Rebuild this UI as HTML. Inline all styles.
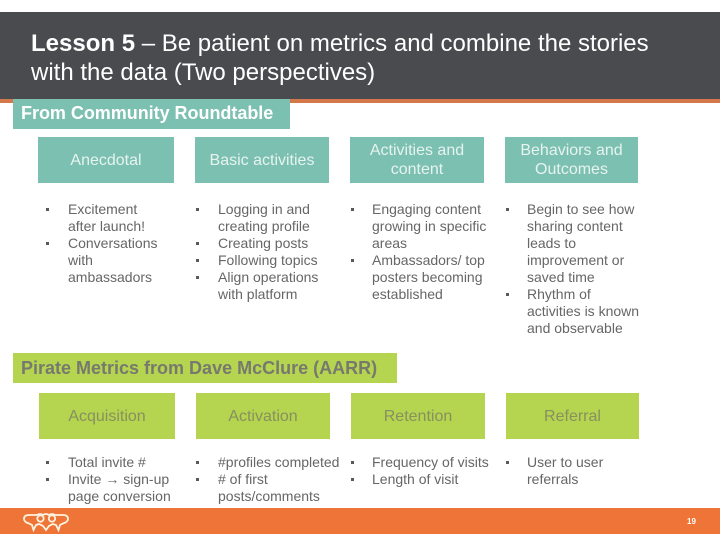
<!DOCTYPE html>
<html>
<head>
<meta charset="utf-8">
<style>
html,body{margin:0;padding:0;background:#fff}
#s{position:relative;width:720px;height:540px;overflow:hidden;background:#fff;font-family:"Liberation Sans",sans-serif}
#s div{position:absolute;white-space:nowrap}
.t{font-size:14px;line-height:17px;color:#666;height:17px}
.b{width:3px;height:3px;background:#595959}
.h{display:flex;align-items:center;justify-content:center;text-align:center;font-size:16px;line-height:19px;height:46px;white-space:normal!important}
.tl{background:#7cc0b1;color:#e6f3f0}
.gr{background:#b5d44f;color:#87905f}
</style>
</head>
<body>
<div id="s">
<div style="left:0;top:12px;width:720px;height:87px;background:#4a4b4f"></div>
<div style="left:0;top:99px;width:720px;height:4px;background:#d4774a"></div>
<div style="left:31px;top:29px;font-size:24px;line-height:29px;color:#fff"><b>Lesson 5</b> – Be patient on metrics and combine the stories<br>with the data (Two perspectives)</div>

<div style="left:13px;top:99px;width:277px;height:30px;background:#7cc0b1"></div>
<div style="left:21px;top:104px;font-size:18px;line-height:19px;font-weight:bold;color:#fff;letter-spacing:-0.03px">From Community Roundtable</div>

<div class="h tl" style="left:38px;top:137px;width:136px">Anecdotal</div>
<div class="h tl" style="left:195px;top:137px;width:134px">Basic activities</div>
<div class="h tl" style="left:350px;top:137px;width:134px">Activities and<br>content</div>
<div class="h tl" style="left:505px;top:137px;width:133px">Behaviors and<br>Outcomes</div>

<div class="b" style="left:46px;top:208px"></div>
<div class="t" style="left:68px;top:201px">Excitement</div>
<div class="t" style="left:68px;top:218px">after launch!</div>
<div class="b" style="left:46px;top:242px"></div>
<div class="t" style="left:68px;top:235px">Conversations</div>
<div class="t" style="left:68px;top:252px">with</div>
<div class="t" style="left:68px;top:269px">ambassadors</div>

<div class="b" style="left:196px;top:208px"></div>
<div class="t" style="left:218px;top:201px">Logging in and</div>
<div class="t" style="left:218px;top:218px">creating profile</div>
<div class="b" style="left:196px;top:242px"></div>
<div class="t" style="left:218px;top:235px">Creating posts</div>
<div class="b" style="left:196px;top:259px"></div>
<div class="t" style="left:218px;top:252px">Following topics</div>
<div class="b" style="left:196px;top:276px"></div>
<div class="t" style="left:218px;top:269px">Align operations</div>
<div class="t" style="left:218px;top:286px">with platform</div>

<div class="b" style="left:351px;top:208px"></div>
<div class="t" style="left:372px;top:201px">Engaging content</div>
<div class="t" style="left:372px;top:218px">growing in specific</div>
<div class="t" style="left:372px;top:235px">areas</div>
<div class="b" style="left:351px;top:259px"></div>
<div class="t" style="left:372px;top:252px">Ambassadors/ top</div>
<div class="t" style="left:372px;top:269px">posters becoming</div>
<div class="t" style="left:372px;top:286px">established</div>

<div class="b" style="left:506px;top:208px"></div>
<div class="t" style="left:527px;top:201px">Begin to see how</div>
<div class="t" style="left:527px;top:218px">sharing content</div>
<div class="t" style="left:527px;top:235px">leads to</div>
<div class="t" style="left:527px;top:252px">improvement or</div>
<div class="t" style="left:527px;top:269px">saved time</div>
<div class="b" style="left:506px;top:293px"></div>
<div class="t" style="left:527px;top:286px">Rhythm of</div>
<div class="t" style="left:527px;top:303px">activities is known</div>
<div class="t" style="left:527px;top:320px">and observable</div>

<div style="left:13px;top:353px;width:384px;height:30px;background:#b5d44f"></div>
<div style="left:21px;top:359px;font-size:18px;line-height:19px;font-weight:bold;color:#77796f">Pirate Metrics from Dave McClure (AARR)</div>

<div class="h gr" style="left:39px;top:393px;width:136px">Acquisition</div>
<div class="h gr" style="left:196px;top:393px;width:134px">Activation</div>
<div class="h gr" style="left:351px;top:393px;width:134px">Retention</div>
<div class="h gr" style="left:506px;top:393px;width:133px">Referral</div>

<div class="b" style="left:46px;top:461px"></div>
<div class="t" style="left:68px;top:454px">Total invite #</div>
<div class="b" style="left:46px;top:478px"></div>
<div class="t" style="left:68px;top:471px">Invite → sign-up</div>
<div class="t" style="left:68px;top:488px">page conversion</div>

<div class="b" style="left:196px;top:461px"></div>
<div class="t" style="left:218px;top:454px">#profiles completed</div>
<div class="b" style="left:196px;top:478px"></div>
<div class="t" style="left:218px;top:471px"># of first</div>
<div class="t" style="left:218px;top:488px">posts/comments</div>

<div class="b" style="left:351px;top:461px"></div>
<div class="t" style="left:372px;top:454px">Frequency of visits</div>
<div class="b" style="left:351px;top:478px"></div>
<div class="t" style="left:372px;top:471px">Length of visit</div>

<div class="b" style="left:506px;top:461px"></div>
<div class="t" style="left:527px;top:454px">User to user</div>
<div class="t" style="left:527px;top:471px">referrals</div>

<div style="left:0;top:508px;width:720px;height:26px;background:#ee7437"></div>
<svg style="position:absolute;left:23px;top:512px" width="46" height="20" viewBox="0 0 46 20" fill="none" stroke="#fdf3e0" stroke-width="1.8">
<path d="M14 3H6Q1 3 1 7Q1 10 6 11.5L9 13L10.5 18L13 13L16 12L20 14L23 18L26 14L30 12L33 13L35.5 18L37 13L40 11.5Q45 10 45 7Q45 3 40 3H32"/>
<path d="M14 3Q17 1 20 3Q23 1 26 3Q29 1 32 3"/>
<circle cx="17.5" cy="6.5" r="3.2"/>
<circle cx="29" cy="6.5" r="3.2"/>
</svg>
<div style="left:687px;top:517px;font-size:8px;line-height:10px;color:#fff;font-weight:bold">19</div>
</div>
</body>
</html>
